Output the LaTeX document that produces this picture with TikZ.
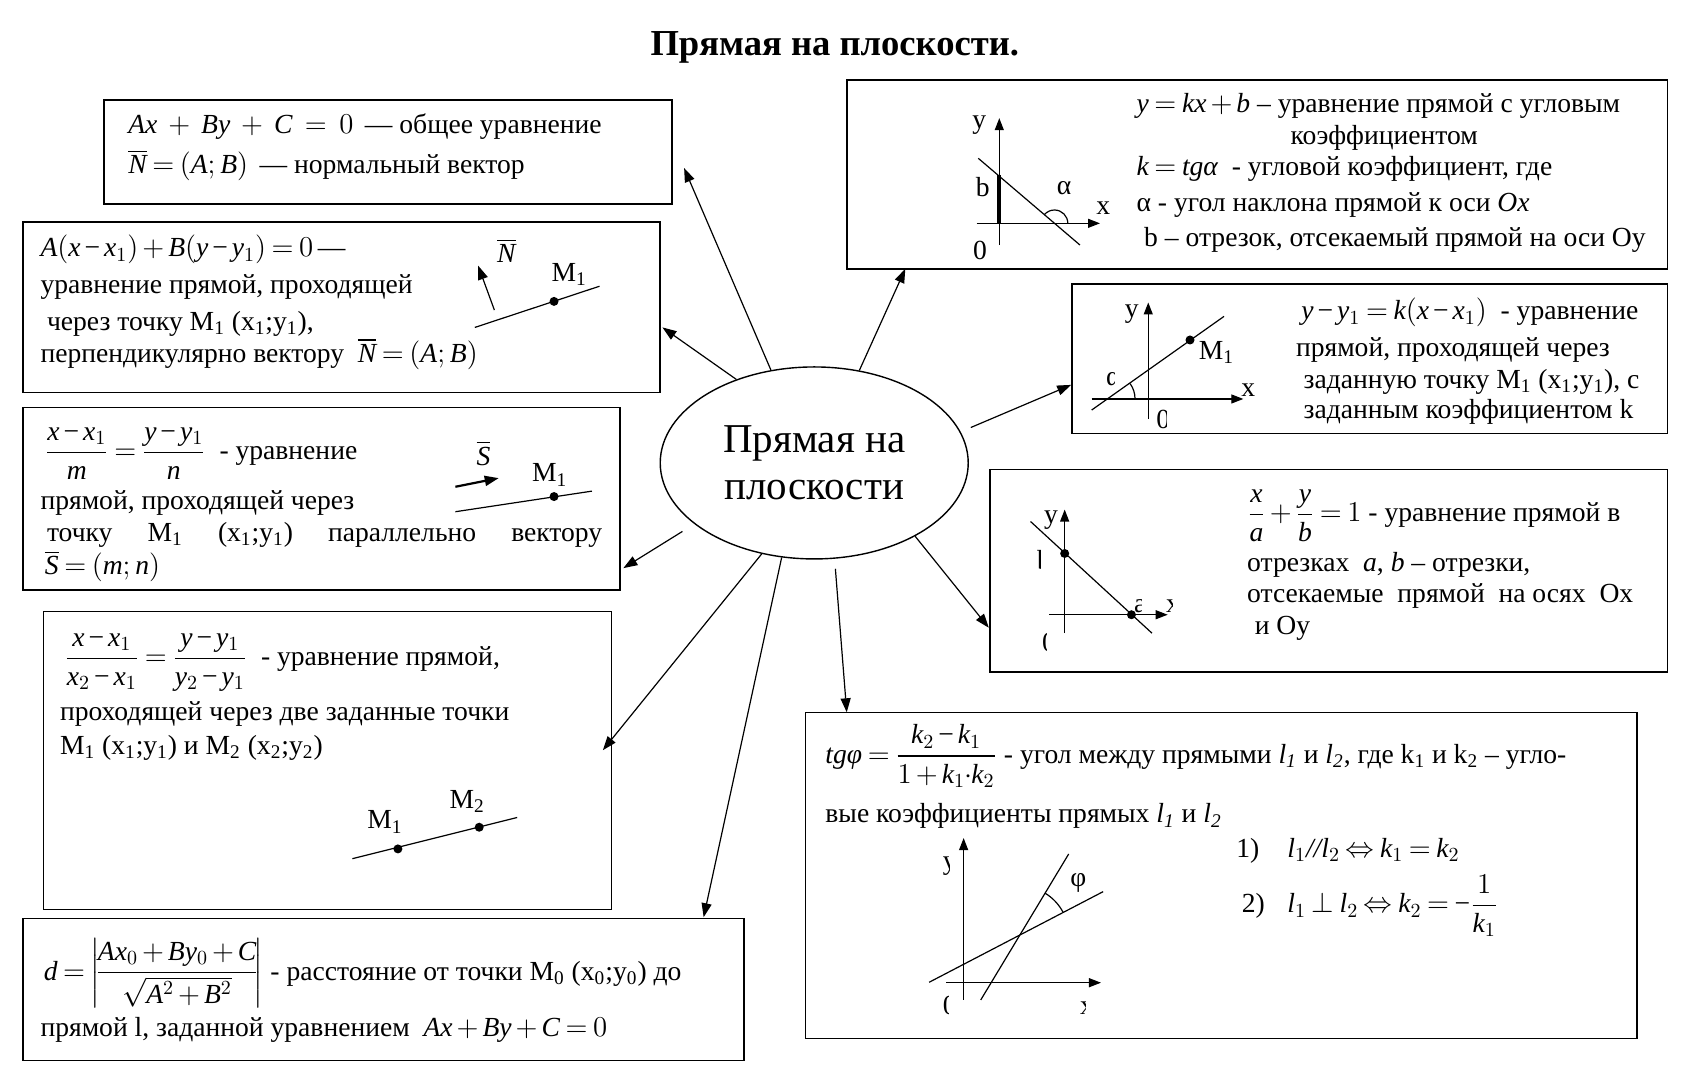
\documentclass[tikz,border=0pt]{standalone}
\usepackage{amsmath}
\usepackage{fontspec}
\setmainfont{Liberation Serif}
% Times-like letters and digits in formulas
\edef\mathfam{\noexpand\DeclareSymbolFont{letters}{TU}{\rmdefault}{m}{it}%
  \noexpand\DeclareSymbolFont{operators}{TU}{\rmdefault}{m}{n}}
\mathfam
\AtBeginDocument{\Umathcode`\-="2 "0 "2212 }
\medmuskip=2.5mu plus 1mu minus 1mu
\thickmuskip=3.5mu plus 2mu
\usetikzlibrary{arrows.meta,shapes.geometric,fit}

% label whose right part is cut off, as in the scan
\newcommand{\clab}[5]{%
  \begin{scope}
    \clip (#2-20,#3-15) rectangle (#2+#4,#3+15);
    \node[lbl] (#1) at (#2,#3) {#5};
  \end{scope}}

\begin{document}
\begin{tikzpicture}[
        x=0.5421pt, y=-0.5421pt,
        box/.style={draw, line width=0.8pt, inner sep=0pt},
        arr/.style={-{Triangle[length=7pt,width=5pt]}, line width=0.6pt},
        ax/.style={-{Triangle[length=6pt,width=4.5pt]}, line width=0.6pt},
        ln/.style={line width=0.6pt},
        txt/.style={anchor=base west, inner sep=0pt, font=\fontsize{13.8}{16}\selectfont},
        lbl/.style={inner sep=0pt, font=\fontsize{13.8}{16}\selectfont},
        pt/.style={circle, fill, inner sep=0pt, minimum size=4.5pt}
    ]
    \useasboundingbox (0,0) rectangle (1568,1004);

    \node[font=\bfseries\fontsize{18.3}{20}\selectfont, anchor=base] (title) at (770,51) {Прямая на плоскости.};

    \node[ellipse, draw, line width=0.7pt, minimum width=154pt, minimum height=96pt, inner sep=0pt,
          align=center, font=\fontsize{20.5}{23.3}\selectfont] (ell) at (751,427) {Прямая на\\плоскости};

    % frames
    \node[box, fit={(96,92) (620,188)}] (gen) {};
    \node[box, fit={(21,205) (609,362)}] (norm) {};
    \node[box, fit={(21,376) (572,544)}] (canon) {};
    \node[box, fit={(40,564) (564,839)}] (twopt) {};
    \node[box, fit={(21,847) (686,978)}] (dist) {};
    \node[box, fit={(781,74) (1538,248)}] (slope) {};
    \node[box, fit={(989,262) (1538,400)}] (ptslope) {};
    \node[box, fit={(913,433) (1538,620)}] (icept) {};
    \node[box, fit={(743,657) (1510,958)}] (angle) {};

    % connectors
    \coordinate (tA) at (631,155);
    \coordinate (tB) at (611,302);
    \coordinate (tC) at (575,524);
    \coordinate (tD) at (556,692);
    \coordinate (tE) at (649,846);
    \coordinate (tF) at (835,248);
    \coordinate (tG) at (988,355);
    \coordinate (tH) at (912,579);
    \coordinate (tI) at (781,657);
    \draw[arr] (ell.115) -- (tA);
    \draw[arr] (ell.133) -- (tB);
    \draw[arr, shorten <=7pt] (ell.207) -- (tC);
    \draw[arr] (ell.240) -- (tD);
    \draw[arr] (ell.251) -- (tE);
    \draw[arr] (ell.64) -- (tF);
    \draw[arr, shorten <=5.5pt] (ell.12) -- (tG);
    \draw[arr] (ell.-36) -- (tH);
    \draw[arr, shorten <=5pt] (ell.-78) -- (tI);

    % general equation
    \node[txt] (a1) at (118,123) {$Ax\ +\ By\ +\ C\ =\ 0$\ \,— общее уравнение};
    \node[txt] (a2) at (118,160) {$\overline{N}=(A;B)$\ \,— нормальный вектор};

    % through a point, normal vector
    \node[txt] (b1) at (37,237) {$A(x-x_1)+B(y-y_1)=0$\,—};
    \node[txt] (b2) at (37,271) {уравнение прямой, проходящей};
    \node[txt] (b3) at (43,305) {через точку M\textsubscript{1} (x\textsubscript{1};y\textsubscript{1}),};
    \node[txt] (b4) at (37,334) {перпендикулярно вектору\ \ $\overline{N}=(A;B)$};
    \draw[arr] (456,286) coordinate (nb0) -- (441,245) coordinate (nb1);
    \node[lbl] (bN) at (467,231) {$\overline{N}$};
    \draw[ln] (438,302) coordinate (lb0) -- (553,264) coordinate (lb1);
    \node[pt] (bM) at (511,278) {};
    \node[lbl] (bMl) at (525,253) {M\textsubscript{1}};

    % canonical
    \node[txt] (c1) at (41,424) {$\dfrac{x-x_1}{m}=\dfrac{y-y_1}{n}$\ \ - уравнение};
    \node[txt] (c2) at (37,470) {прямой, проходящей через};
    \node[txt] (c3) at (43,499) {\hbox to 277.6pt{точку\hfill M\textsubscript{1}\hfill (x\textsubscript{1};y\textsubscript{1})\hfill параллельно\hfill вектору}};
    \node[txt] (c4) at (41,530) {$\overline{S}=(m;n)$};
    \node[lbl] (cS) at (446,418) {$\overline{S}$};
    \draw[arr, line width=1.1pt] (420,449) coordinate (sc0) -- (460,441) coordinate (sc1);
    \draw[ln] (420,472) coordinate (lc0) -- (546,453) coordinate (lc1);
    \node[pt] (cM) at (511,458) {};
    \node[lbl] (cMl) at (507,438) {M\textsubscript{1}};

    % two points
    \node[txt] (d1) at (59,614) {$\dfrac{x-x_1}{x_2-x_1}=\dfrac{y-y_1}{y_2-y_1}$\ \ - уравнение прямой,};
    \node[txt] (d2) at (55,665) {проходящей через две заданные точки};
    \node[txt] (d3) at (55,696) {M\textsubscript{1} (x\textsubscript{1};y\textsubscript{1}) и M\textsubscript{2} (x\textsubscript{2};y\textsubscript{2})};
    \draw[ln] (325,792) coordinate (ld0) -- (477,754) coordinate (ld1);
    \node[pt] (dM1) at (367,783) {};
    \node[pt] (dM2) at (442,763) {};
    \node[lbl] (dM1l) at (355,758) {M\textsubscript{1}};
    \node[lbl] (dM2l) at (431,739) {M\textsubscript{2}};

    % distance
    \node[txt] (e1) at (40,904) {$d=\left|\!\dfrac{Ax_0+By_0+C}{\sqrt{A^2+B^2}}\!\right|$\ - расстояние от точки M\textsubscript{0} (x\textsubscript{0};y\textsubscript{0}) до};
    \node[txt] (e2) at (37,956) {прямой l, заданной уравнением\ \ $Ax+By+C=0$};

    % slope form
    \node[txt] (f1) at (1048,104) {$y=kx+b$ – уравнение прямой с угловым};
    \node[txt] (f2) at (1190,133) {коэффициентом};
    \node[txt] (f3) at (1048,162) {$k=tg\textit{α}$\ \ - угловой коэффициент, где};
    \node[txt] (f4) at (1048,195) {α - угол наклона прямой к оси $Ox$};
    \node[txt] (f5) at (1055,227) {b – отрезок, отсекаемый прямой на оси Oy};
    \draw[ax] (921.7,226) coordinate (fy0) -- (921.7,109) coordinate (fy1);
    \draw[ax] (900.8,206) coordinate (fx0) -- (1014.6,206) coordinate (fx1);
    \draw[line width=2.2pt] (921.7,206) coordinate (fb0) -- (921.7,161.4) coordinate (fb1);
    \draw[ln] (902.3,146) coordinate (lf0) -- (996.1,226) coordinate (lf1);
    \draw[ln] (984.9,206) arc[start angle=0, end angle=-139.5, radius=12.3];
    \node[lbl] (fy) at (903.3,115.3) {y};
    \node[lbl] (fx) at (1017.6,192.2) {x};
    \node[lbl] (fb) at (906.4,172.2) {b};
    \node[lbl] (f0) at (903.9,230.6) {0};
    \node[lbl] (fa) at (981.4,173.7) {α};

    % point and slope
    \node[txt] (g1) at (1200,295) {$y-y_1=k(x-x_1)$\ \ - уравнение};
    \node[txt] (g2) at (1195,329) {прямой, проходящей через};
    \node[txt] (g3) at (1202,358) {заданную точку M\textsubscript{1} (x\textsubscript{1};y\textsubscript{1}), с};
    \node[txt] (g4) at (1202,386) {заданным коэффициентом k};
    \draw[ax] (1059.1,386.5) coordinate (gy0) -- (1059.1,279) coordinate (gy1);
    \draw[ax] (1006.9,368) coordinate (gx0) -- (1146.8,368) coordinate (gx1);
    \draw[ln] (1006.9,378.2) coordinate (lg0) -- (1129,291.8) coordinate (lg1);
    \draw[ln] (1046.9,368) arc[start angle=0, end angle=-35.3, radius=24.6];
    \node[pt] (gM) at (1097.6,313.6) {};
    \node[lbl] (gMl) at (1122,325) {M\textsubscript{1}};
    \node[lbl] (gy) at (1043.8,289.6) {y};
    \node[lbl] (gx) at (1151.4,359.7) {x};
    \clab{ga}{1026.9}{349.6}{1}{α}
    \clab{g0}{1073}{386.5}{2.5}{0}

    % intercept form
    \node[txt] (h1) at (1150,481) {$\dfrac{x}{a}+\dfrac{y}{b}=1$\ - уравнение прямой в};
    \node[txt] (h2) at (1150,527) {отрезках\ \ $a$, $b$ – отрезки,};
    \node[txt] (h3) at (1150,556) {отсекаемые\ \ прямой\ \ на осях\ \ Ox};
    \node[txt] (h4) at (1157,585) {и Oy};
    \draw[ax] (982,584) coordinate (hy0) -- (982,470) coordinate (hy1);
    \draw[ax] (967.6,567) coordinate (hx0) -- (1077,567) coordinate (hx1);
    \draw[ln] (950.5,481) coordinate (lh0) -- (1062.5,584) coordinate (lh1);
    \node[pt] (hB) at (982,510.5) {};
    \node[pt] (hA) at (1043.6,567) {};
    \node[lbl] (hy) at (969.5,479.6) {y};
    \clab{hb}{963}{516.5}{-3}{b}
    \clab{ha}{1051.6}{559.5}{1}{a}
    \clab{h0}{967.6}{592.8}{-2}{0}
    \clab{hx}{1082}{559.5}{-1}{x}

    % angle between lines
    \node[txt] (i1) at (761,704) {$tg\textit{φ}=\dfrac{k_2-k_1}{1+k_1\!\cdot\! k_2}$\ - угол между прямыми \textit{l\textsubscript{1}} и \textit{l\textsubscript{2}}, где k\textsubscript{1} и k\textsubscript{2} – угло-};
    \node[txt] (i2) at (761,759) {вые коэффициенты прямых \textit{l\textsubscript{1}} и \textit{l\textsubscript{2}}};
    \node[txt] (i3n) at (1140,791) {1)};
    \node[txt] (i3) at (1187,791) {$l_1\mathord{\text{\itshape //}}l_2\Leftrightarrow k_1=k_2$};
    \node[txt] (i4n) at (1145,842) {2)};
    \node[txt] (i4) at (1187,842) {$l_1\perp l_2\Leftrightarrow k_2=-\dfrac{1}{k_1}$};
    \draw[ax] (888.8,922) coordinate (iy0) -- (888.8,773) coordinate (iy1);
    \draw[ax] (872.7,906.4) coordinate (ix0) -- (1015.5,906.4) coordinate (ix1);
    \draw[ln] (857,906) coordinate (li0) -- (1017.5,822.4) coordinate (li1);
    \draw[ln] (904.6,922.3) coordinate (lj0) -- (985.7,787.7) coordinate (lj1);
    \draw[ln] (980.6,841.6) arc[start angle=-27.5, end angle=-58.9, radius=45];
    \node[lbl] (iphi) at (994.5,814.6) {φ};
    \clab{iy}{876}{799}{-0.5}{y}
    \clab{i0}{876}{927}{-1}{0}
    \clab{ix}{1002.6}{930}{-1}{x}

\end{tikzpicture}
\end{document}
